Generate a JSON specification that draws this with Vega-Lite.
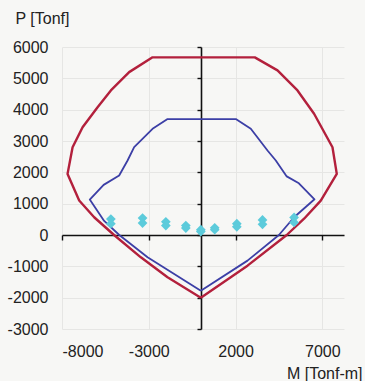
{
  "$schema": "https://vega.github.io/schema/vega-lite/v6.json",
  "width": 282,
  "height": 282,
  "autosize": "none",
  "padding": {"left": 62, "top": 47, "right": 21, "bottom": 52},
  "background": "#f7f7f5",
  "config": {
    "view": {"stroke": null},
    "font": "Liberation Sans",
    "axis": {"labelFont": "Liberation Sans", "titleFont": "Liberation Sans", "labelColor": "#222222", "titleColor": "#222222"}
  },
  "datasets": {
    "curves": [
      {"curve": "outer", "i": 1, "M": 0, "P": -2000},
      {"curve": "outer", "i": 2, "M": -1918, "P": -1351},
      {"curve": "outer", "i": 3, "M": -3456, "P": -712},
      {"curve": "outer", "i": 4, "M": -5000, "P": 0},
      {"curve": "outer", "i": 5, "M": -6146, "P": 566},
      {"curve": "outer", "i": 6, "M": -7010, "P": 1099},
      {"curve": "outer", "i": 7, "M": -7680, "P": 1950},
      {"curve": "outer", "i": 8, "M": -7390, "P": 2802},
      {"curve": "outer", "i": 9, "M": -6814, "P": 3441},
      {"curve": "outer", "i": 10, "M": -5950, "P": 4080},
      {"curve": "outer", "i": 11, "M": -5184, "P": 4613},
      {"curve": "outer", "i": 12, "M": -4130, "P": 5198},
      {"curve": "outer", "i": 13, "M": -2782, "P": 5670},
      {"curve": "outer", "i": 14, "M": 3110, "P": 5670},
      {"curve": "outer", "i": 15, "M": 4418, "P": 5253},
      {"curve": "outer", "i": 16, "M": 5570, "P": 4613},
      {"curve": "outer", "i": 17, "M": 6526, "P": 3869},
      {"curve": "outer", "i": 18, "M": 7586, "P": 2802},
      {"curve": "outer", "i": 19, "M": 7834, "P": 1952},
      {"curve": "outer", "i": 20, "M": 6912, "P": 1099},
      {"curve": "outer", "i": 21, "M": 5950, "P": 520},
      {"curve": "outer", "i": 22, "M": 4950, "P": 0},
      {"curve": "outer", "i": 23, "M": 2690, "P": -978},
      {"curve": "outer", "i": 24, "M": 0, "P": -2000},
      {"curve": "inner", "i": 1, "M": 0, "P": -1780},
      {"curve": "inner", "i": 2, "M": -3070, "P": -712},
      {"curve": "inner", "i": 3, "M": -4700, "P": 0},
      {"curve": "inner", "i": 4, "M": -5570, "P": 450},
      {"curve": "inner", "i": 5, "M": -6400, "P": 1130},
      {"curve": "inner", "i": 6, "M": -5600, "P": 1600},
      {"curve": "inner", "i": 7, "M": -4706, "P": 1900},
      {"curve": "inner", "i": 8, "M": -4222, "P": 2377},
      {"curve": "inner", "i": 9, "M": -3842, "P": 2802},
      {"curve": "inner", "i": 10, "M": -2782, "P": 3390},
      {"curve": "inner", "i": 11, "M": -1918, "P": 3700},
      {"curve": "inner", "i": 12, "M": 2016, "P": 3700},
      {"curve": "inner", "i": 13, "M": 2880, "P": 3390},
      {"curve": "inner", "i": 14, "M": 3842, "P": 2697},
      {"curve": "inner", "i": 15, "M": 4320, "P": 2377},
      {"curve": "inner", "i": 16, "M": 4950, "P": 1870},
      {"curve": "inner", "i": 17, "M": 5650, "P": 1650},
      {"curve": "inner", "i": 18, "M": 6550, "P": 1140},
      {"curve": "inner", "i": 19, "M": 5374, "P": 566},
      {"curve": "inner", "i": 20, "M": 4500, "P": 0},
      {"curve": "inner", "i": 21, "M": 2690, "P": -818},
      {"curve": "inner", "i": 22, "M": 0, "P": -1780}
    ],
    "loads": [
      {"M": -5184, "P": 510}, {"M": -5184, "P": 360},
      {"M": -3358, "P": 540}, {"M": -3358, "P": 380},
      {"M": -2016, "P": 420}, {"M": -2016, "P": 300},
      {"M": -864, "P": 300}, {"M": -864, "P": 220},
      {"M": 0, "P": 170}, {"M": 0, "P": 110},
      {"M": 800, "P": 230}, {"M": 800, "P": 170},
      {"M": 2074, "P": 360}, {"M": 2074, "P": 260},
      {"M": 3554, "P": 480}, {"M": 3554, "P": 340},
      {"M": 5374, "P": 560}, {"M": 5374, "P": 400}
    ]
  },
  "resolve": {"axis": {"x": "independent", "y": "independent"}},
  "layer": [
    {
      "data": {"name": "curves"},
      "mark": {"type": "line", "strokeJoin": "round"},
      "encoding": {
        "x": {
          "field": "M", "type": "quantitative",
          "scale": {"domain": [-8000, 8250], "nice": false, "zero": false},
          "axis": {
            "values": [-8000, -3000, 2000, 7000],
            "labelExpr": "datum.value + ''",
            "domain": false, "ticks": false,
            "grid": true, "gridColor": "#e6e6e4",
            "labelFontSize": 16, "labelPadding": 14,
            "title": "M [Tonf-m]", "titleFontSize": 16, "titleFontWeight": "normal",
            "titleAlign": "right", "titleBaseline": "middle",
            "titleX": 300, "titleY": 44
          }
        },
        "y": {
          "field": "P", "type": "quantitative",
          "scale": {"domain": [-3000, 6000], "nice": false, "zero": false},
          "axis": {
            "values": [-3000, -2000, -1000, 0, 1000, 2000, 3000, 4000, 5000, 6000],
            "labelExpr": "datum.value + ''",
            "domain": false, "ticks": false,
            "grid": true, "gridColor": "#e6e6e4",
            "labelFontSize": 16, "labelPadding": 14,
            "title": "P [Tonf]", "titleFontSize": 16, "titleFontWeight": "normal",
            "titleAngle": 0, "titleAlign": "left", "titleBaseline": "middle",
            "titleX": -47, "titleY": -29
          }
        },
        "order": {"field": "i", "type": "quantitative"},
        "color": {
          "field": "curve", "type": "nominal",
          "scale": {"domain": ["outer", "inner"], "range": ["#b3203c", "#3c3fa6"]},
          "legend": null
        },
        "strokeWidth": {
          "field": "curve", "type": "nominal",
          "scale": {"domain": ["outer", "inner"], "range": [2.4, 1.8]},
          "legend": null
        }
      }
    },
    {
      "data": {"name": "loads"},
      "mark": {"type": "point", "shape": "diamond", "filled": true, "color": "#5ccbdb", "size": 95, "opacity": 1},
      "encoding": {
        "x": {
          "field": "M", "type": "quantitative",
          "axis": {
            "orient": "bottom", "offset": -94,
            "values": [-8000, -3000, 2000, 7000],
            "labels": false, "grid": false, "title": null,
            "domainColor": "#111111", "domainWidth": 1.6,
            "tickColor": "#111111", "tickWidth": 1.4, "tickSize": 5
          }
        },
        "y": {
          "field": "P", "type": "quantitative",
          "axis": {
            "orient": "left", "offset": -139,
            "values": [-3000, -2000, -1000, 0, 1000, 2000, 3000, 4000, 5000, 6000],
            "labels": false, "grid": false, "title": null,
            "domainColor": "#111111", "domainWidth": 1.6,
            "tickColor": "#111111", "tickWidth": 1.4, "tickSize": 4
          }
        }
      }
    }
  ]
}
